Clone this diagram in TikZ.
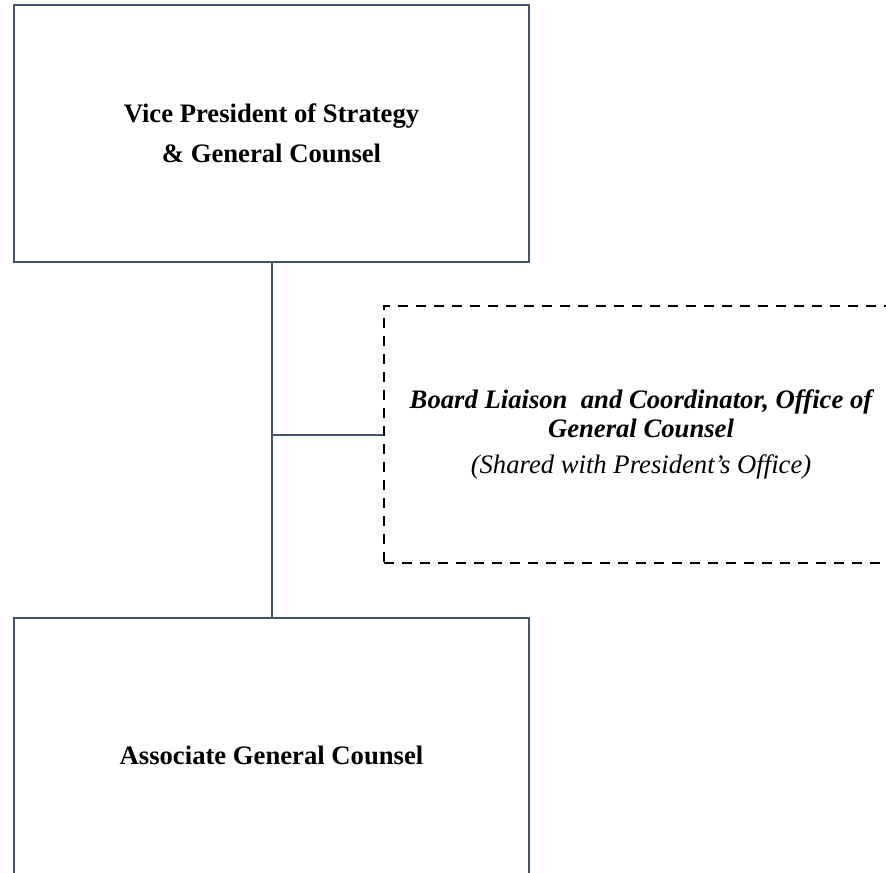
\documentclass[tikz,border=0pt]{standalone}
\usepackage{fontspec}
\setmainfont{Liberation Serif}
\definecolor{postline}{HTML}{44546A}

\begin{document}
\begin{tikzpicture}[x=0.75pt,y=-0.75pt,
  post/.style={draw=postline,line width=1.5pt,minimum width=386pt,align=center,
    font=\fontsize{20}{21.75}\selectfont\bfseries},
  shared/.style={draw=black,line width=1.5pt,dash pattern=on 7.5pt off 6pt,
    minimum width=385pt,minimum height=193pt,align=center,
    font=\fontsize{20}{21.75}\selectfont},
  link/.style={draw=postline,line width=1.5pt}]
\useasboundingbox (0,0) rectangle (886,872);
\node[post,minimum height=193pt] (vp) at (271.5,133.75) {Vice President of Strategy\\[8.25pt]\& General Counsel};
\node[shared] (liaison) at (641,434.5) {\bfseries\itshape Board Liaison\ \ and Coordinator, Office of\\\bfseries\itshape General Counsel\\[5.25pt]\itshape (Shared with President's Office)};
\node[post,minimum height=205pt] (agc) at (271.5,755) {Associate General Counsel};
%\draw (vp) -- (liaison);
\draw[link] (vp.south) -- (agc.north);
\draw[link] (vp.south |- liaison.west) -- (liaison.west);
\end{tikzpicture}
\end{document}
